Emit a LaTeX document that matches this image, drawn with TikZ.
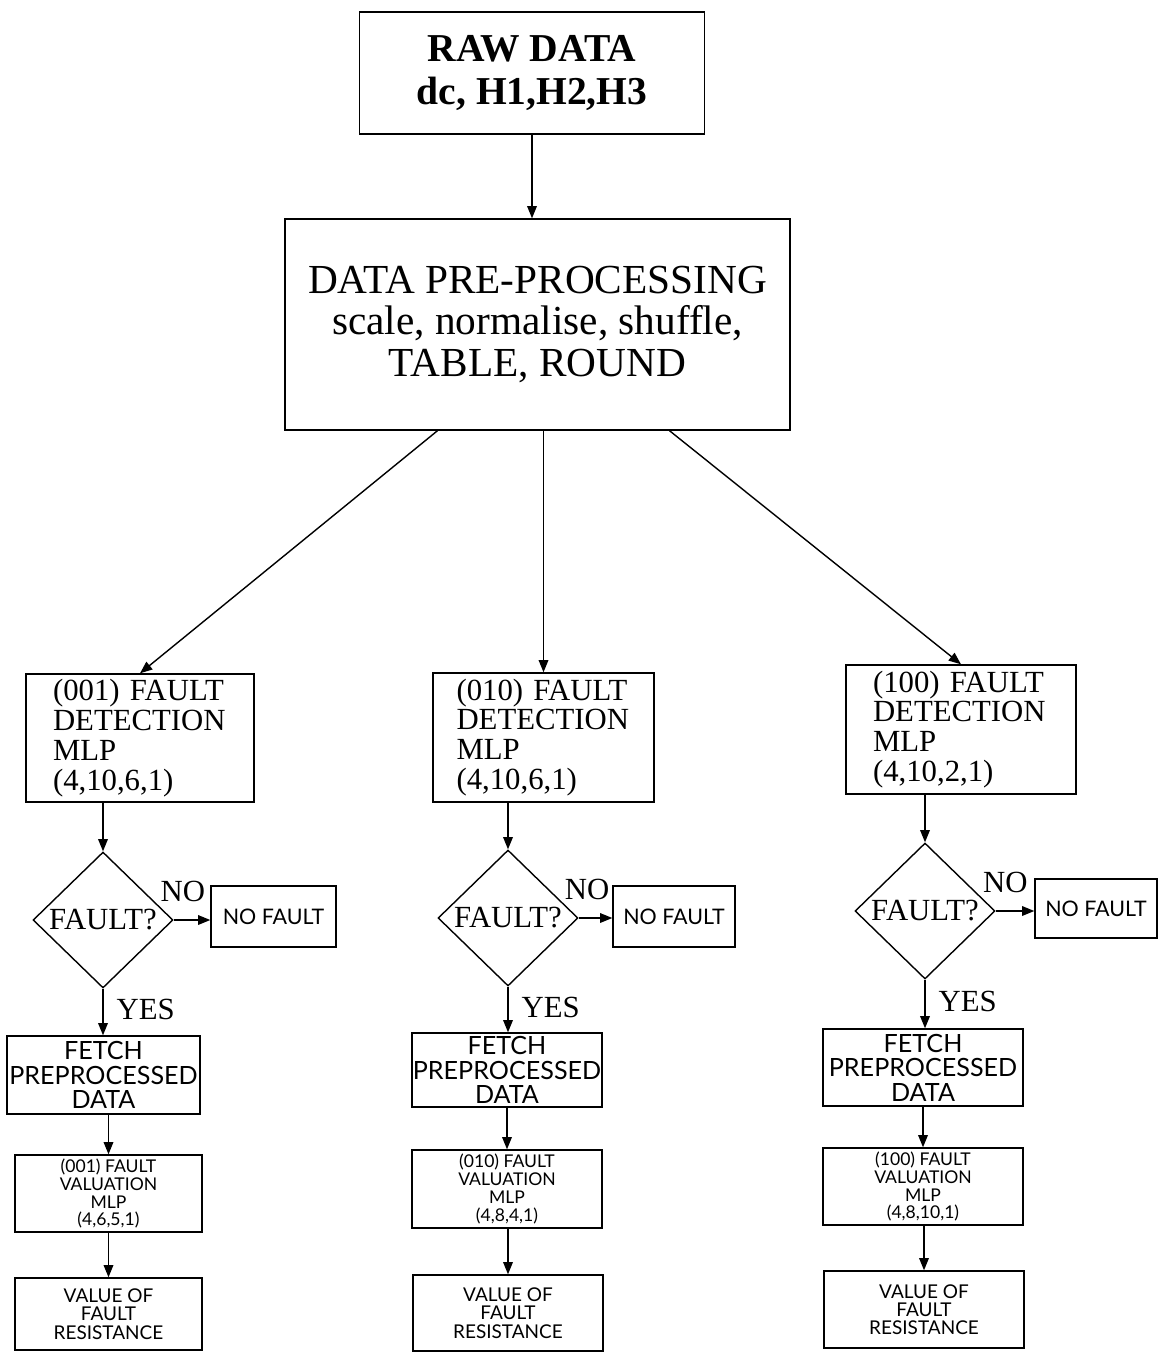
\documentclass[tikz,border=0pt]{standalone}
\usepackage{fontspec}
\setmainfont{Liberation Serif}
\newfontfamily\labelsans{Lato}
\usetikzlibrary{shapes.geometric,arrows.meta}

\begin{document}
\begin{tikzpicture}[x=0.02cm,y=-0.02cm,line width=0.8pt,
        box/.style={draw,inner sep=0pt,align=center},
        detbox/.style={draw,align=left,inner xsep=0.54cm,inner ysep=0pt,font=\fontsize{17.5}{17}\selectfont},
        decision/.style={draw,diamond,inner sep=0pt,minimum width=2.8cm,minimum height=2.72cm},
        faulttext/.style={inner sep=0pt,font=\fontsize{17.5}{17.5}\selectfont},
        nofaultbox/.style={box,font=\labelsans\fontsize{12.2}{12.5}\selectfont},
        fetchbox/.style={box,font=\labelsans\fontsize{14.3}{14}\selectfont},
        valbox/.style={box,font=\labelsans\fontsize{10}{10.2}\selectfont},
        resultbox/.style={box,font=\labelsans\fontsize{10.8}{10.4}\selectfont},
        answer/.style={inner sep=0pt,font=\fontsize{17.5}{17.5}\selectfont},
        flow/.style={-{Triangle[length=7pt,width=5.5pt]}}]
        \useasboundingbox (0,0) rectangle (1158,1354);
        \node[box,minimum width=6.9cm,minimum height=2.44cm,font=\bfseries\fontsize{22.5}{24}\selectfont] (raw) at (532,73) {RAW DATA\\dc, H1,H2,H3};
        \node[box,minimum width=10.1cm,minimum height=4.22cm,font=\fontsize{23.5}{23.8}\selectfont] (pre) at (537.5,324.5) {DATA PRE-PROCESSING\\scale, normalise, shuffle,\\TABLE, ROUND};
        \draw[flow] (raw.south) -- (raw.south |- pre.north);

        \node[detbox,text width=3.48cm,minimum height=2.56cm] (det1) at (140,738) {(001) FAULT\\DETECTION\\MLP\\(4,10,6,1)};
        \node[detbox,text width=3.48cm,inner xsep=0.47cm,minimum height=2.58cm] (det2) at (543.5,737.5) {(010) FAULT\\DETECTION\\MLP\\(4,10,6,1)};
        \node[detbox,text width=3.52cm,minimum height=2.58cm] (det3) at (961,729.5) {(100) FAULT\\DETECTION\\MLP\\(4,10,2,1)};
        \draw[flow] ([xshift=-2cm]pre.south) -- (det1.north);
        \draw[flow] (pre.south -| det2.north) -- (det2.north);
        \draw[flow] ([xshift=2.64cm]pre.south) -- (det3.north);

        \node[decision,label={[faulttext]center:FAULT?}] (dia1) at (103,920) {};
        \node[decision,label={[faulttext]center:FAULT?}] (dia2) at (508,918) {};
        \node[decision,label={[faulttext]center:FAULT?}] (dia3) at (925,911) {};
        \draw[flow] (det1.south -| dia1.north) -- (dia1.north);
        \draw[flow] (det2.south -| dia2.north) -- (dia2.north);
        \draw[flow] (det3.south -| dia3.north) -- (dia3.north);

        \node[nofaultbox,minimum width=2.5cm,minimum height=1.22cm] (nf1) at (273.5,916.5) {NO FAULT};
        \node[nofaultbox,minimum width=2.44cm,minimum height=1.22cm] (nf2) at (674,916.5) {NO FAULT};
        \node[nofaultbox,minimum width=2.44cm,minimum height=1.18cm] (nf3) at (1096,908.5) {NO FAULT};
        \draw[flow] (dia1.east) -- node[answer,pos=0.25,above=10pt] {NO} (dia1.east -| nf1.west);
        \draw[flow] (dia2.east) -- node[answer,pos=0.25,above=10pt] {NO} (dia2.east -| nf2.west);
        \draw[flow] (dia3.east) -- node[answer,pos=0.25,above=10pt] {NO} (dia3.east -| nf3.west);

        \node[fetchbox,minimum width=3.86cm,minimum height=1.56cm] (f1) at (103.5,1075) {FETCH\\PREPROCESSED\\DATA};
        \node[fetchbox,minimum width=3.8cm,minimum height=1.48cm] (f2) at (507,1070) {FETCH\\PREPROCESSED\\DATA};
        \node[fetchbox,minimum width=4cm,minimum height=1.54cm] (f3) at (923,1067.5) {FETCH\\PREPROCESSED\\DATA};
        \draw[flow] (dia1.south) -- node[answer,pos=0.45,right=0.26cm] {YES} (dia1.south |- f1.north);
        \draw[flow] (dia2.south) -- node[answer,pos=0.45,right=0.26cm] {YES} (dia2.south |- f2.north);
        \draw[flow] (dia3.south) -- node[answer,pos=0.45,right=0.26cm] {YES} (dia3.south |- f3.north);

        \node[valbox,minimum width=3.74cm,minimum height=1.54cm] (v1) at (108.5,1193.5) {(001) FAULT\\VALUATION\\MLP\\(4,6,5,1)};
        \node[valbox,minimum width=3.8cm,minimum height=1.56cm] (v2) at (507,1189) {(010) FAULT\\VALUATION\\MLP\\(4,8,4,1)};
        \node[valbox,minimum width=4cm,minimum height=1.54cm] (v3) at (923,1186.5) {(100) FAULT\\VALUATION\\MLP\\(4,8,10,1)};
        \draw[flow] (f1.south -| v1.north) -- (v1.north);
        \draw[flow] (f2.south -| v2.north) -- (v2.north);
        \draw[flow] (f3.south -| v3.north) -- (v3.north);

        \node[resultbox,minimum width=3.74cm,minimum height=1.44cm] (r1) at (108.5,1314) {VALUE OF\\FAULT\\RESISTANCE};
        \node[resultbox,minimum width=3.8cm,minimum height=1.52cm] (r2) at (508,1313) {VALUE OF\\FAULT\\RESISTANCE};
        \node[resultbox,minimum width=4cm,minimum height=1.54cm] (r3) at (924,1309.5) {VALUE OF\\FAULT\\RESISTANCE};
        \draw[flow] (v1.south -| r1.north) -- (r1.north);
        \draw[flow] (v2.south -| r2.north) -- (r2.north);
        \draw[flow] (v3.south -| r3.north) -- (r3.north);
    \end{tikzpicture}
\end{document}
